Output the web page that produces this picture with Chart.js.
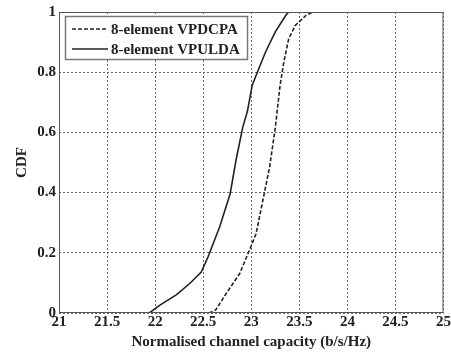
<!DOCTYPE html>
<html>
<head>
<meta charset="utf-8">
<script src="https://cdn.jsdelivr.net/npm/chart.js@4"></script>
<style>
  html, body { margin: 0; padding: 0; background: #fff; }
  #wrap { width: 451px; height: 354px; }
</style>
</head>
<body>
<div id="wrap"><canvas id="cdfChart"></canvas></div>
<script>
// Series: capacity (b/s/Hz) vs CDF
const vpdcpaX = [22.56, 22.63, 22.74, 22.88, 22.98, 23.05, 23.12, 23.19, 23.25, 23.30, 23.34, 23.39, 23.46, 23.57, 23.64];
const vpdcpaY = [0, 0.01, 0.065, 0.131, 0.208, 0.263, 0.373, 0.483, 0.615, 0.757, 0.835, 0.912, 0.956, 0.989, 1];
const vpuldaX = [21.94, 22.05, 22.22, 22.36, 22.48, 22.55, 22.67, 22.78, 22.84, 22.91, 22.96, 23.01, 23.08, 23.15, 23.25, 23.36, 23.39];
const vpuldaY = [0, 0.026, 0.06, 0.098, 0.136, 0.186, 0.285, 0.395, 0.505, 0.615, 0.67, 0.757, 0.813, 0.868, 0.934, 0.989, 1];
const seriesNames = ['8-element VPDCPA', '8-element VPULDA'];
const xTicks = ['21', '21.5', '22', '22.5', '23', '23.5', '24', '24.5', '25'];
const yTicks = ['0', '0.2', '0.4', '0.6', '0.8', '1'];

const toPoints = (xs, ys) => xs.map((x, i) => ({ x: x, y: ys[i] }));
const fontFamily = '"Liberation Serif", "DejaVu Serif", serif';

// box round the plot and the in-plot legend
const frameAndLegend = {
    id: 'frameAndLegend',
    afterDraw(chart) {
        const { ctx, chartArea: a } = chart;
        ctx.save();
        ctx.strokeStyle = '#555';
        ctx.lineWidth = 1;
        ctx.setLineDash([]);
        ctx.strokeRect(a.left + 0.5, a.top + 0.5, a.right - a.left - 1, a.bottom - a.top - 1);

        // legend
        const lx = a.left + 6, ly = a.top + 4, lw = 182, lh = 43;
        ctx.fillStyle = '#fff';
        ctx.fillRect(lx, ly, lw, lh);
        ctx.strokeStyle = '#777';
        ctx.lineWidth = 1.5;
        ctx.strokeRect(lx + 0.5, ly + 0.5, lw, lh);
        ctx.font = 'bold 15px ' + fontFamily;
        ctx.fillStyle = '#222';
        ctx.textBaseline = 'middle';
        chart.data.datasets.forEach((ds, i) => {
            const yy = ly + 13 + i * 20;
            ctx.strokeStyle = '#222';
            ctx.lineWidth = 1.5;
            ctx.setLineDash(ds.borderDash || []);
            ctx.beginPath();
            ctx.moveTo(lx + 7, yy);
            ctx.lineTo(lx + 43, yy);
            ctx.stroke();
            ctx.setLineDash([]);
            ctx.fillText(ds.label, lx + 46, yy + 1);
        });
        ctx.restore();
    }
};

const ctx = document.getElementById('cdfChart').getContext('2d');
const chart = new Chart(ctx, {
    type: 'scatter',
    data: {
        datasets: [{
            label: seriesNames[0],
            data: toPoints(vpdcpaX, vpdcpaY),
            showLine: true,
            borderColor: '#222',
            borderWidth: 1.6,
            borderDash: [4, 2],
            pointRadius: 0,
            tension: 0
        }, {
            label: seriesNames[1],
            data: toPoints(vpuldaX, vpuldaY),
            showLine: true,
            borderColor: '#222',
            borderWidth: 1.6,
            pointRadius: 0,
            tension: 0
        }]
    },
    options: {
        responsive: true,
        maintainAspectRatio: false,
        animation: false,
        layout: { padding: { top: 1, right: 4, bottom: 3, left: 13 } },
        scales: {
            x: {
                min: 21,
                max: 25,
                afterBuildTicks: (scale) => {
                    scale.ticks = xTicks.map(t => ({ value: Number(t) }));
                },
                ticks: {
                    color: '#222',
                    padding: 0,
                    maxRotation: 0,
                    font: { family: fontFamily, size: 15, weight: 'bold' },
                    callback: (v) => xTicks.find(t => Number(t) === v) || ''
                },
                grid: { color: '#666', lineWidth: 1, drawTicks: false },
                border: { display: false, dash: [2, 2] },
                title: {
                    display: true,
                    text: 'Normalised channel capacity (b/s/Hz)',
                    color: '#222',
                    padding: { top: 2, bottom: 0 },
                    font: { family: fontFamily, size: 15, weight: 'bold' }
                }
            },
            y: {
                min: 0,
                max: 1,
                afterBuildTicks: (scale) => {
                    scale.ticks = yTicks.map(t => ({ value: Number(t) }));
                },
                afterFit: (scale) => { scale.width = 46; },
                ticks: {
                    color: '#222',
                    padding: 3,
                    font: { family: fontFamily, size: 15, weight: 'bold' },
                    callback: (v) => yTicks.find(t => Number(t) === v) || ''
                },
                grid: { color: '#666', lineWidth: 1, drawTicks: false },
                border: { display: false, dash: [2, 2] },
                title: {
                    display: true,
                    text: 'CDF',
                    color: '#222',
                    padding: { top: 0, bottom: 4 },
                    font: { family: fontFamily, size: 15, weight: 'bold' }
                }
            }
        },
        plugins: {
            legend: { display: false },
            tooltip: { enabled: false }
        }
    },
    plugins: [frameAndLegend]
});
</script>
</body>
</html>
